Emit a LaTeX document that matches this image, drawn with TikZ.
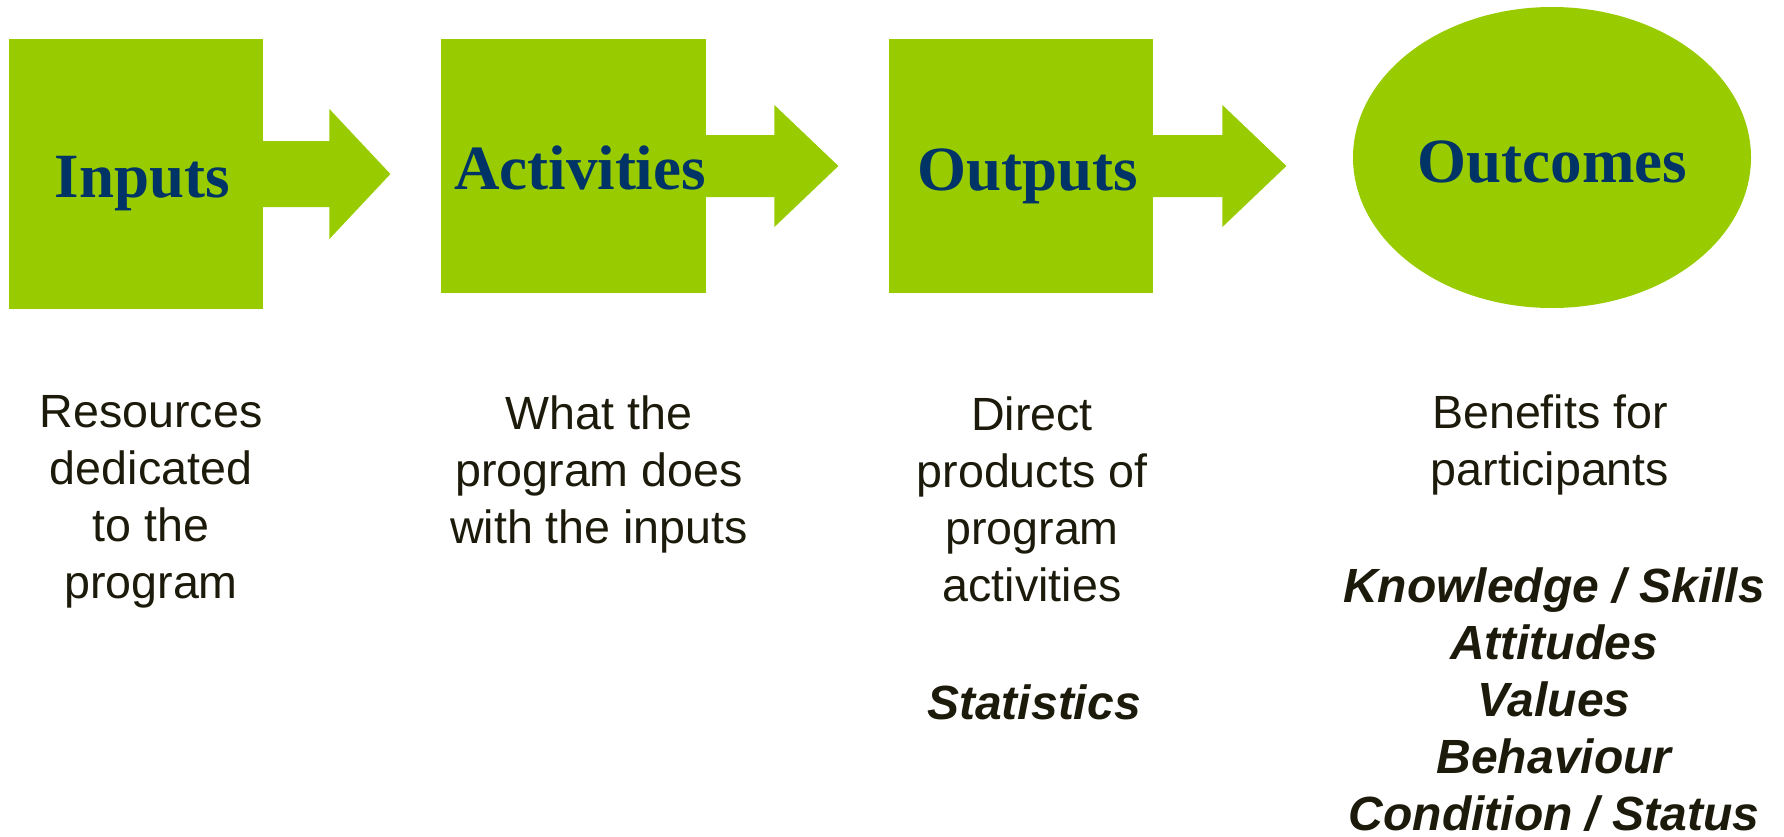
\documentclass[tikz,border=0pt]{standalone}
\usepackage{fontspec}
\setmainfont{Liberation Sans}
\newfontfamily\titlefont{Liberation Serif}
\usetikzlibrary{shapes.geometric,calc}

\definecolor{leaf}{RGB}{153,204,0}
\definecolor{navy}{RGB}{0,51,102}
\definecolor{ink}{RGB}{28,26,10}

\tikzset{
  stagebox/.style={fill=leaf, inner sep=0pt},
  stagetitle/.style={anchor=base, text=navy, inner sep=0pt,
    font=\titlefont\bfseries\fontsize{31.5}{36}\selectfont},
  % multi-line text: base sits on the last line
  stagetext/.style={anchor=base, align=center, text=ink, inner sep=0pt,
    font=\fontsize{23.3}{28.5}\selectfont},
  stagekey/.style={stagetext, font=\bfseries\itshape\fontsize{24}{28.5}\selectfont},
}

\begin{document}
\begin{tikzpicture}[x=0.5pt,y=-0.5pt]
  \useasboundingbox (0,0) rectangle (1784,836);

  % the four stages
  \node[stagebox, minimum width=127pt, minimum height=135pt] (inputs) at (136,174) {};
  \node[stagebox, minimum width=132.5pt, minimum height=127pt] (activities) at (573.5,166) {};
  \node[stagebox, minimum width=132pt, minimum height=127pt] (outputs) at (1021,166) {};
  \node[stagebox, ellipse, minimum width=199pt, minimum height=150.5pt] (outcomes) at (1552,157.5) {};

  % block arrows between the stages
  \fill[leaf] ($(inputs.east)+(-2,-33)$) -- ++(68,0) -- ++(0,-32)
    -- ($(inputs.east)+(127,0)$) -- ($(inputs.east)+(66,65)$) -- ++(0,-32)
    -- ($(inputs.east)+(-2,33)$) -- cycle;
  \fill[leaf] ($(activities.east)+(-2,-31)$) -- ++(70,0) -- ++(0,-30)
    -- ($(activities.east)+(132,0)$) -- ($(activities.east)+(68,61)$) -- ++(0,-30)
    -- ($(activities.east)+(-2,31)$) -- cycle;
  \fill[leaf] ($(outputs.east)+(-2,-31)$) -- ++(71,0) -- ++(0,-30)
    -- ($(outputs.east)+(133,0)$) -- ($(outputs.east)+(69,61)$) -- ++(0,-30)
    -- ($(outputs.east)+(-2,31)$) -- cycle;

  % titles
  \node[stagetitle] (inputs-title) at (142.5,197) {Inputs};
  \node[stagetitle] (activities-title) at (580,189) {Activities};
  \node[stagetitle] (outputs-title) at (1027.5,190) {Outputs};
  \node[stagetitle] (outcomes-title) at (1552.5,182) {Outcomes};

  % descriptions
  \node[stagetext] (inputs-text) at (151,598) {Resources\\dedicated\\to the\\program};
  \node[stagetext] (activities-text) at (599,543) {What the\\program does\\with the inputs};
  \node[stagetext] (outputs-text) at (1032,601) {Direct\\products of\\program\\activities};
  \node[stagekey] (outputs-key) at (1034,719) {Statistics};
  \node[stagetext] (outcomes-text) at (1550,485) {Benefits for\\participants};
  \node[stagekey] (outcomes-key) at (1554,830)
    {Knowledge / Skills\\Attitudes\\Values\\Behaviour\\Condition / Status};
\end{tikzpicture}
\end{document}
